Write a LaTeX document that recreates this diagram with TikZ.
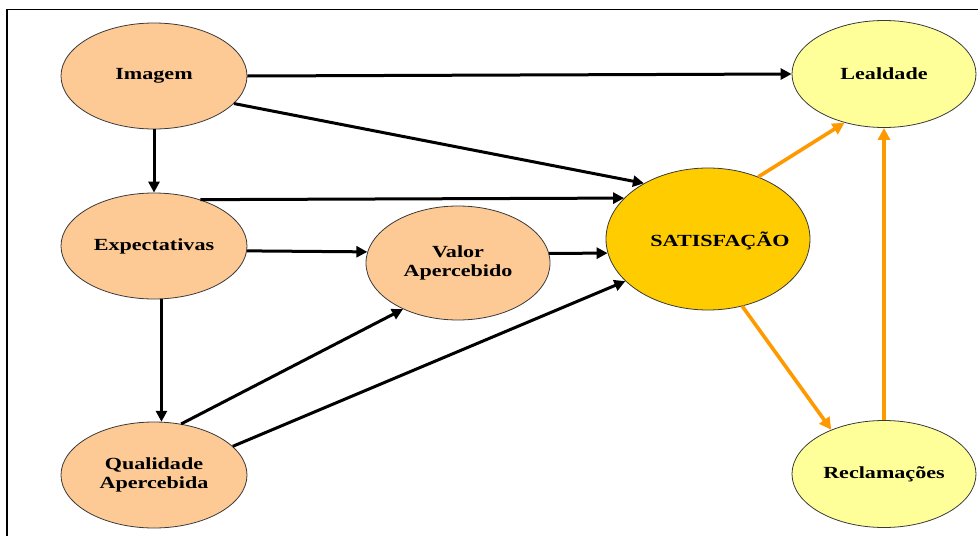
\documentclass[tikz,border=0pt]{standalone}
\usepackage{fontspec}
\setmainfont{Liberation Serif}[FakeStretch=1.3]
\usetikzlibrary{shapes.geometric,arrows.meta}

\definecolor{peach}{HTML}{FDCA95}
\definecolor{lemon}{HTML}{FFFF99}
\definecolor{gold}{HTML}{FFCC00}
\definecolor{amber}{HTML}{FF9900}
\definecolor{rim}{HTML}{3A3A3A}

\tikzset{
  bubble/.style={ellipse, draw=rim, line width=0.8pt, inner sep=0pt,
    align=center, font=\fontsize{17}{19.5}\selectfont\bfseries},
  driver/.style={bubble, fill=peach, minimum width=186pt, minimum height=106pt},
  outcome/.style={bubble, fill=lemon, minimum width=184pt, minimum height=107pt},
  core/.style={bubble, fill=gold, minimum width=204pt, minimum height=142pt},
  link/.style={line width=3pt, draw=black,
    -{Triangle[length=11pt,width=11pt]}},
  glink/.style={line width=3.6pt, draw=amber,
    -{Triangle[length=12pt,width=12pt]}},
  lbl/.style={font=\fontsize{17}{19.5}\selectfont\bfseries, inner sep=0pt}
}

\begin{document}
\begin{tikzpicture}[x=1pt,y=-1pt]
  \useasboundingbox (0,0) rectangle (978,536);
  \fill[white] (0,0) rectangle (978,536);

  % outer frame (top and left edges)
  \draw[line width=1.6pt] (978,9.5) -- (7,9.5) -- (7,536);

  % constructs
  \node[driver]  (img)  at (154,76)  {Imagem};
  \node[driver]  (exp)  at (154,246) {Expectativas};
  \node[driver]  (qual) at (154,475) {Qualidade\\Apercebida};
  \node[driver, minimum width=184pt, minimum height=114pt]
                 (val)  at (458,263) {Valor\\Apercebido};
  \node[core]    (sat)  at (708,239) {};
  \node[lbl]     (satlbl) at (720,241) {SATISFAÇÃO};
  \node[outcome] (leal) at (884,74)  {Lealdade};
  \node[outcome] (recl) at (884,474) {Reclamações};

  % antecedents
  \draw[link] (img.east)   -- (leal.west);
  \draw[link] (img.-19)    -- (sat.139);
  \draw[link] (img.south)  -- (exp.north);
  \draw[link] (exp.45.7)   -- (sat.154.6);
  \draw[link] (exp.-3.7)   -- (val.173.1);
  \draw[link] (val.6.9)    -- (sat.-172.6);
  \draw[link] (exp.-82.6)  -- (qual.82.5);
  \draw[link] (qual.62.7)  -- (val.-140);
  \draw[link] (qual.20.3)  -- (sat.-153.2);

  % consequences
  \draw[glink] (sat.51.7)   -- (leal.-129.5);
  \draw[glink] (sat.-63.4)  -- (recl.140.8);
  \draw[glink] (recl.north) -- (leal.south);
\end{tikzpicture}
\end{document}
